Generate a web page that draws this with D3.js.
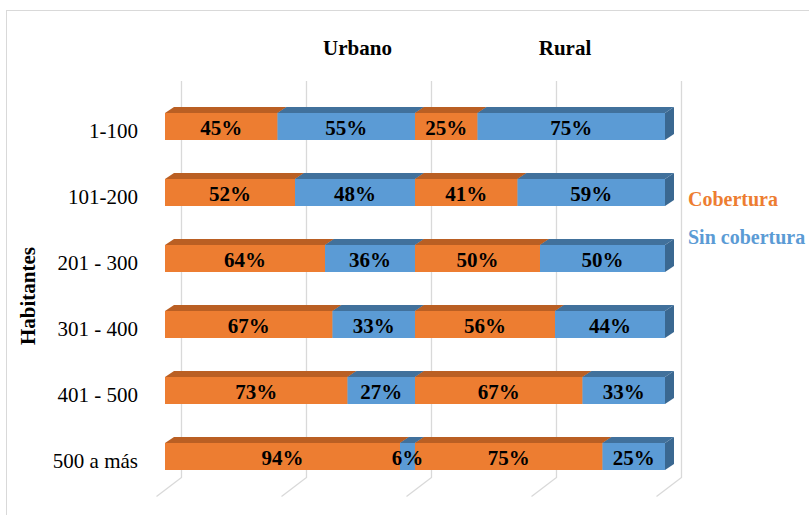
<!DOCTYPE html>
<html>
<head>
<meta charset="utf-8">
<script src="https://cdn.jsdelivr.net/npm/d3@7"></script>
<style>
  html, body { margin: 0; padding: 0; background: #fff; overflow: hidden; }
</style>
</head>
<body>
<div id="chart"></div>
<script>
// data
const categories = ["1-100", "101-200", "201 - 300", "301 - 400", "401 - 500", "500 a más"];
const urbanoCob = [45, 52, 64, 67, 73, 94];
const urbanoSin = [55, 48, 36, 33, 27, 6];
const ruralCob  = [25, 41, 50, 56, 67, 75];
const ruralSin  = [75, 59, 50, 44, 33, 25];
const groups    = ["Urbano", "Rural"];
const groupPos  = [77, 160];           // where the group titles sit on the value scale
const seriesNames = ["Cobertura", "Sin cobertura"];
const gridTicks = [0, 50, 100, 150, 200];

// sizing
const W = 809, H = 515;
const barH = 27;
const depthX = 9, depthY = 6;     // bar depth (3d look)
const wallX = 16;                  // back wall offset of the grid
const floorDX = -25, floorDY = 19;
const FONT = "'Liberation Serif', 'DejaVu Serif', serif";

const colors = {
  "Cobertura":     { front: "#ED7D31", top: "#BA5F23", side: "#A8561F" },
  "Sin cobertura": { front: "#5B9BD5", top: "#41719C", side: "#3A6891" }
};

const svg = d3.select("#chart").append("svg")
  .attr("width", W).attr("height", H)
  .attr("font-family", FONT);

// chart border
svg.append("rect")
  .attr("x", 6.5).attr("y", 10.5)
  .attr("width", W + 10).attr("height", H + 10)
  .attr("fill", "none").attr("stroke", "#D9D9D9");

const x = d3.scaleLinear().domain([0, 200]).range([165, 665]);
const y = d3.scalePoint().domain(categories).range([126.5, 456.5]);

// gridlines on the back wall + floor
const gridTop = 81, gridBottom = 477.5;
svg.append("g").selectAll("path")
  .data(gridTicks)
  .join("path")
  .attr("fill", "none")
  .attr("stroke", "#D9D9D9")
  .attr("stroke-width", 1.3)
  .attr("d", d => {
    const gx = Math.round(x(d) + wallX) + 0.5;
    return `M${gx},${gridTop}V${gridBottom}l${floorDX},${floorDY}`;
  });

// build stacked segments
const rows = categories.map((c, i) => {
  const vals = [
    { s: "Cobertura", v: urbanoCob[i] },
    { s: "Sin cobertura", v: urbanoSin[i] },
    { s: "Cobertura", v: ruralCob[i] },
    { s: "Sin cobertura", v: ruralSin[i] }
  ];
  let acc = 0;
  const segs = vals.map(d => {
    const seg = { cat: c, s: d.s, v: d.v, x0: acc, x1: acc + d.v };
    acc += d.v;
    return seg;
  });
  return { cat: c, segs };
});

const bars = svg.append("g");
rows.forEach(r => {
  const cy = y(r.cat);
  const top = cy - barH / 2, bot = cy + barH / 2;
  const g = bars.append("g");
  r.segs.forEach(sg => {
    const a = x(sg.x0), b = x(sg.x1);
    const col = colors[sg.s];
    // side face
    g.append("path")
      .attr("fill", col.side)
      .attr("d", `M${b},${top}L${b + depthX},${top - depthY}L${b + depthX},${bot - depthY}L${b},${bot}Z`);
    // top face
    g.append("path")
      .attr("fill", col.top)
      .attr("d", `M${a},${top}L${a + depthX},${top - depthY}L${b + depthX},${top - depthY}L${b},${top}Z`);
    // front face
    g.append("rect")
      .attr("x", a).attr("y", top)
      .attr("width", b - a).attr("height", barH)
      .attr("fill", col.front);
  });
});

// value labels
const labels = svg.append("g");
rows.forEach(r => {
  labels.selectAll(null)
    .data(r.segs)
    .join("text")
    .attr("x", d => (x(d.x0) + x(d.x1)) / 2)
    .attr("y", y(r.cat) + 8.5)
    .attr("text-anchor", "middle")
    .attr("font-size", 21)
    .attr("font-weight", "bold")
    .attr("fill", "#000")
    .text(d => d.v + "%");
});

// category labels
svg.append("g").selectAll("text")
  .data(categories)
  .join("text")
  .attr("x", 138)
  .attr("y", d => y(d) + 11)
  .attr("text-anchor", "end")
  .attr("font-size", 21)
  .attr("fill", "#000")
  .text(d => d);

// axis title
svg.append("text")
  .attr("transform", "translate(35,296) rotate(-90)")
  .attr("text-anchor", "middle")
  .attr("font-size", 21)
  .attr("font-weight", "bold")
  .attr("fill", "#000")
  .text("Habitantes");

// group titles
svg.append("g").selectAll("text")
  .data(groups)
  .join("text")
  .attr("x", (d, i) => x(groupPos[i]))
  .attr("y", 55)
  .attr("text-anchor", "middle")
  .attr("font-size", 21)
  .attr("font-weight", "bold")
  .attr("fill", "#000")
  .text(d => d);

// legend
svg.append("g").selectAll("text")
  .data(seriesNames)
  .join("text")
  .attr("x", 688)
  .attr("y", (d, i) => 206 + i * 38)
  .attr("font-size", 20)
  .attr("font-weight", "bold")
  .attr("fill", d => colors[d].front)
  .text(d => d);
</script>
</body>
</html>
